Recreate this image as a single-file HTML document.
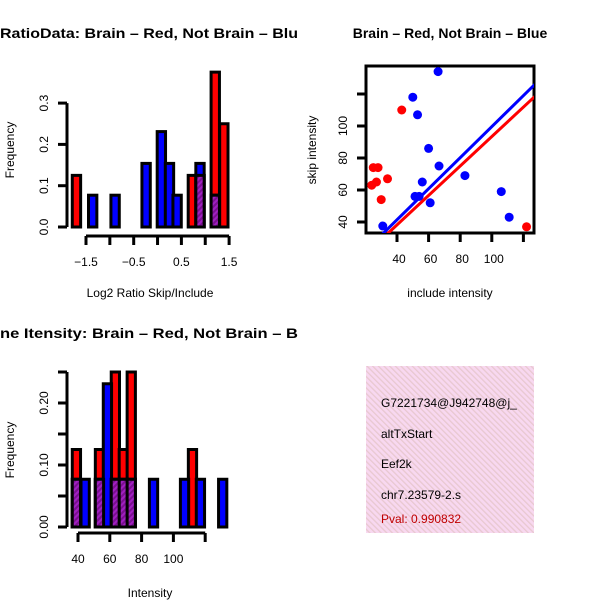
<!DOCTYPE html>
<html><head><meta charset="utf-8"><style>
body{margin:0;background:#fff}
svg{display:block;font-family:"Liberation Sans",sans-serif}
</style></head><body>
<svg id="c" width="600" height="600" xmlns="http://www.w3.org/2000/svg">
<defs>
<pattern id="hatch" width="4" height="4" patternUnits="userSpaceOnUse" patternTransform="rotate(45)">
<rect width="4" height="4" fill="#a020c0"/><rect width="2" height="4" fill="#7a1090"/></pattern>
<pattern id="pink" width="4" height="4" patternUnits="userSpaceOnUse" patternTransform="rotate(-45)">
<rect width="4" height="4" fill="#f8d8f0"/><rect width="1.3" height="4" fill="#e8c8d0"/></pattern>
<clipPath id="cl1"><rect x="0" y="0" width="300" height="300"/></clipPath>
<clipPath id="cl2"><rect x="366" y="66" width="168" height="167"/></clipPath>
<clipPath id="cl4"><rect x="366" y="366" width="168" height="167"/></clipPath>
</defs>
<text x="0" y="38" font-size="14" font-weight="bold" textLength="298" lengthAdjust="spacingAndGlyphs">RatioData: Brain – Red, Not Brain – Blu</text>
<text x="450" y="38" font-size="14" font-weight="bold" text-anchor="middle">Brain – Red, Not Brain – Blue</text>
<text x="0" y="338" font-size="14" font-weight="bold" textLength="298" lengthAdjust="spacingAndGlyphs">ne Itensity: Brain – Red, Not Brain – B</text>
<text x="150" y="297" font-size="12" text-anchor="middle">Log2 Ratio Skip/Include</text>
<text transform="translate(14,150) rotate(-90)" font-size="12" text-anchor="middle">Frequency</text>
<text x="450" y="297" font-size="12" text-anchor="middle">include intensity</text>
<text transform="translate(316,150) rotate(-90)" font-size="12" text-anchor="middle">skip intensity</text>
<text x="150" y="597" font-size="12" text-anchor="middle">Intensity</text>
<text transform="translate(14,450) rotate(-90)" font-size="12" text-anchor="middle">Frequency</text>
<g>
<rect x="366" y="366" width="168" height="167" fill="url(#pink)"/>
<g clip-path="url(#cl4)" font-size="12">
<text x="381" y="407">G7221734@J942748@j_</text>
<text x="381" y="438">altTxStart</text>
<text x="381" y="468">Eef2k</text>
<text x="381" y="499">chr7.23579-2.s</text>
<text x="381" y="523" fill="#c00000">Pval: 0.990832</text>
</g></g>
<g id="g1"></g><g id="g2"></g><g id="g3"></g>
</svg>
<script>
// Ratio histogram data
const ratioRedX=[-1.70,0.73,0.89,1.21,1.39];
const ratioRedY=[0.125,0.125,0.125,0.375,0.25];
const ratioBlueX=[-1.36,-0.89,-0.24,0.08,0.25,0.41,0.89,1.21];
const ratioBlueY=[0.077,0.077,0.154,0.231,0.154,0.077,0.154,0.077];
const ratioXTicks=[-1.5,-1,-0.5,0,0.5,1,1.5];
const ratioXLabels=["-1.5","-0.5","0.5","1.5"];
const ratioYTicks=[0,0.1,0.2,0.3];
// Scatter data
const brainInc=[43,25,28,27,24,34,30,122];
const brainSkip=[110,74,74,65,63,67,54,37];
const otherInc=[31,66,50,53,60,66.6,56,51.4,54,61,83,106,111];
const otherSkip=[37.5,134,118,107,86,75,65,56,56,52,69,59,43];
const fitBlue=[0.97,2.6], fitRed=[0.92,1.4];
const scXTicks=[40,60,80,100,120], scXLabels=[40,60,80,100];
const scYTicks=[40,60,80,100,120], scYLabels=[40,60,80,100];
// Intensity histogram data
const intRedX=[39,53.5,63.5,68.5,73.5,112];
const intRedY=[0.125,0.125,0.25,0.125,0.25,0.125];
const intBlueX=[39,44.5,53.5,58.5,63.5,68.5,73.5,87.5,107,117,131];
const intBlueY=[0.077,0.077,0.077,0.231,0.077,0.077,0.077,0.077,0.077,0.077,0.077];
const intXTicks=[40,60,80,100,120], intXLabels=[40,60,80,100];
const intYTicks=[0,0.05,0.1,0.15,0.2,0.25], intYLabels=["0.00","0.10","0.20"];

const NS="http://www.w3.org/2000/svg";
function mk(p,t,a){const e=document.createElementNS(NS,t);for(const k in a)e.setAttribute(k,a[k]);p.appendChild(e);return e;}
function fmt(v){return String(v).replace('-','\u2212');}

function hist(g,rx,ry,bx,by,sx,sy,w){
  const y0=sy(0);
  const bar=(x,h,fill,name)=>{const l=sx(x-w/2),r=sx(x+w/2);
    const e=mk(g,'rect',{x:l,y:sy(h),width:r-l,height:y0-sy(h),fill:fill,stroke:'#000','stroke-width':3});
    
    };
  rx.forEach((x,i)=>bar(x,ry[i],'#ff0000','bar-brain'));
  bx.forEach((x,i)=>bar(x,by[i],'#0000ff','bar-not-brain'));
  rx.forEach((x,i)=>{const j=bx.indexOf(x);if(j>=0)bar(x,Math.min(ry[i],by[j]),'url(#hatch)','bar-overlap');});
}
function yaxis(g,x,sy,ticks,labels,fmtf){
  mk(g,'line',{x1:x,x2:x,y1:sy(ticks[0]),y2:sy(ticks[ticks.length-1]),stroke:'#000','stroke-width':3});
  ticks.forEach(t=>mk(g,'line',{x1:x-9,x2:x,y1:sy(t),y2:sy(t),stroke:'#000','stroke-width':3}));
  labels.forEach(l=>{const v=parseFloat(l);const e=mk(g,'text',{transform:`translate(${x-19},${sy(v)}) rotate(-90)`,'font-size':12,'text-anchor':'middle'});e.textContent=fmtf?fmtf(l):l;
    
    });
}
function xaxis(g,y,sx,ticks,labels){
  mk(g,'line',{x1:sx(ticks[0]),x2:sx(ticks[ticks.length-1]),y1:y,y2:y,stroke:'#000','stroke-width':3});
  ticks.forEach(t=>mk(g,'line',{x1:sx(t),x2:sx(t),y1:y,y2:y+9,stroke:'#000','stroke-width':3}));
  labels.forEach(l=>{const e=mk(g,'text',{x:sx(parseFloat(l)),y:y+30,'font-size':12,'text-anchor':'middle'});e.textContent=fmt(l);
    
    });
}
// Panel 1
{const g=document.getElementById('g1');
 const sx=v=>86+(v+1.5)*47.7, sy=v=>227-v*413;
 hist(g,ratioRedX,ratioRedY,ratioBlueX,ratioBlueY,sx,sy,0.175);
 yaxis(g,67,sy,ratioYTicks,["0.0","0.1","0.2","0.3"]);
 xaxis(g,236,sx,ratioXTicks,ratioXLabels);}
// Panel 2
{const g=document.getElementById('g2');
 const sx=v=>397+(v-40)*1.58, sy=v=>222-(v-40)*1.6;
 mk(g,'rect',{x:366,y:66,width:168,height:167,fill:'none',stroke:'#000','stroke-width':3});
 const c=mk(g,'g',{'clip-path':'url(#cl2)'});
 brainInc.forEach((x,i)=>{const e=mk(c,'circle',{cx:sx(x),cy:sy(brainSkip[i]),r:4.5,fill:'#ff0000'});
   
   });
 otherInc.forEach((x,i)=>{const e=mk(c,'circle',{cx:sx(x),cy:sy(otherSkip[i]),r:4.5,fill:'#0000ff'});
   
   });
 [[fitBlue,'#0000ff','fit-line-not-brain'],[fitRed,'#ff0000','fit-line-brain']].forEach(([f,col,n])=>{
   const e=mk(c,'line',{x1:sx(10),y1:sy(f[0]*10+f[1]),x2:sx(140),y2:sy(f[0]*140+f[1]),stroke:col,'stroke-width':3});
   
   });
 scXTicks.forEach(t=>mk(g,'line',{x1:sx(t),x2:sx(t),y1:233,y2:242,stroke:'#000','stroke-width':3}));
 scXLabels.forEach(l=>{const e=mk(g,'text',{x:sx(l)+2,y:263,'font-size':12,'text-anchor':'middle'});e.textContent=l;
   
   });
 scYTicks.forEach(t=>mk(g,'line',{x1:357,x2:366,y1:sy(t),y2:sy(t),stroke:'#000','stroke-width':3}));
 scYLabels.forEach(l=>{const e=mk(g,'text',{transform:`translate(347,${sy(l)}) rotate(-90)`,'font-size':12,'text-anchor':'middle'});e.textContent=l;
   
   });}
// Panel 3
{const g=document.getElementById('g3');
 const sx=v=>78+(v-40)*1.59, sy=v=>527-v*620;
 hist(g,intRedX,intRedY,intBlueX,intBlueY,sx,sy,5.2);
 yaxis(g,67,sy,intYTicks,intYLabels);
 xaxis(g,533,sx,intXTicks,intXLabels);}
</script>
</body></html>
